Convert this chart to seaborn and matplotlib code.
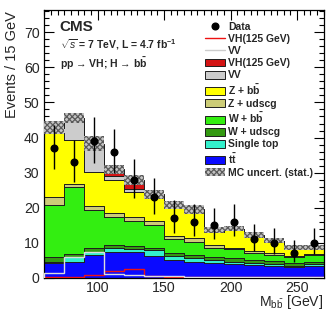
import numpy as np
import pandas as pd
import matplotlib
matplotlib.use("Agg")
import matplotlib.pyplot as plt
import seaborn as sns
from matplotlib.lines import Line2D
from matplotlib.patches import Patch
from matplotlib.ticker import MultipleLocator

# ---- data (events per 15 GeV bin) ----
mbb_edges = [60, 75, 90, 105, 120, 135, 150, 165, 180, 195, 210, 225, 240, 255, 270]
mbb_centers = [67.5, 82.5, 97.5, 112.5, 127.5, 142.5, 157.5, 172.5,
               187.5, 202.5, 217.5, 232.5, 247.5, 262.5]

tt = [4.3, 4.6, 6.5, 7.4, 7.2, 6.2, 5.0, 4.6, 4.1, 3.8, 3.6, 3.3, 3.0, 3.3]
single_top = [0.2, 1.2, 0.9, 1.0, 1.0, 1.7, 1.2, 1.0, 0.9, 0.8, 0.7, 0.6, 0.4, 0.6]
w_udscg = [1.3, 1.0, 1.0, 0.9, 0.8, 0.7, 0.8, 1.0, 1.0, 0.9, 0.7, 0.9, 0.7, 0.7]
w_bb = [14.9, 19.0, 10.9, 7.9, 7.3, 6.4, 4.0, 3.5, 2.6, 2.7, 2.0, 1.7, 1.7, 1.8]
z_udscg = [2.4, 0.9, 1.2, 1.2, 0.9, 1.3, 1.0, 1.3, 0.6, 0.4, 0.6, 0.5, 0.4, 0.4]
z_bb = [18.1, 12.6, 9.7, 9.5, 7.3, 6.5, 8.1, 7.6, 3.9, 4.9, 4.1, 3.1, 1.9, 1.3]
vv = [1.4, 6.0, 7.3, 1.2, 0.7, 0.4, 0.4, 0.3, 0.3, 0.3, 0.3, 0.3, 0.3, 0.3]
vh = [0.2, 0.3, 0.7, 1.9, 2.6, 0.6, 0.3, 0.2, 0.2, 0.2, 0.2, 0.15, 0.1, 0.1]
mc_unc = [1.8, 1.5, 2.1, 1.3, 1.4, 1.3, 1.2, 1.2, 0.8, 0.8, 0.8, 0.7, 0.7, 0.7]

data = [37, 33, 39, 36, 28, 23, 17, 16, 15, 16, 11, 10, 7, 10]
data_err_lo = [6.1, 5.7, 6.2, 6.0, 5.3, 4.8, 4.1, 4.0, 3.9, 4.0, 3.3, 3.1, 2.6, 3.1]
data_err_hi = [6.6, 6.2, 6.8, 6.5, 6.0, 5.4, 5.2, 5.1, 4.9, 5.1, 4.4, 4.3, 3.8, 4.3]

# top of the stack first (seaborn stacks the last hue level at the bottom)
processes = ["VH(125 GeV)", "VV", "Z + bb", "Z + udscg", "W + bb",
             "W + udscg", "Single top", "tt"]
yields = [vh, vv, z_bb, z_udscg, w_bb, w_udscg, single_top, tt]
colors = ["#d41414", "#cccccc", "#ffff00", "#cccc77", "#33ee11",
          "#339911", "#33f0cc", "#0a0aff"]
labels = ["VH(125 GeV)", "VV", r"Z + $\mathbf{b\bar{b}}$", "Z + udscg",
          r"W + $\mathbf{b\bar{b}}$", "W + udscg", "Single top",
          r"$\mathbf{t\bar{t}}$"]

df = pd.DataFrame({
    "mbb": np.tile(mbb_centers, len(processes)),
    "events": np.concatenate(yields),
    "process": np.repeat(processes, len(mbb_centers)),
})

# ---- style ----
sns.set_theme(style="ticks")
plt.rcParams["font.family"] = ["Liberation Sans", "DejaVu Sans"]
plt.rcParams["mathtext.fontset"] = "custom"
plt.rcParams["mathtext.rm"] = "Liberation Sans"
plt.rcParams["mathtext.bf"] = "Liberation Sans:bold"
plt.rcParams["mathtext.it"] = "Liberation Sans:italic"
plt.rcParams["hatch.linewidth"] = 0.9

fig = plt.figure(figsize=(3.28, 3.11), dpi=100)
ax = fig.add_axes([0.135, 0.107, 0.852, 0.861])

# stacked backgrounds + signal
sns.histplot(data=df, x="mbb", weights="events", hue="process",
             hue_order=processes, palette=dict(zip(processes, colors)),
             bins=mbb_edges, multiple="stack", element="step", fill=True,
             alpha=1, edgecolor="#1e1e1e", linewidth=0.7, legend=False, ax=ax)

# MC stat uncertainty band
total = np.sum(yields, axis=0)
step_lo = np.append(total - np.array(mc_unc), total[-1] - mc_unc[-1])
step_hi = np.append(total + np.array(mc_unc), total[-1] + mc_unc[-1])
band_face, band_hatch = "#c4c4c4", "#5a5a5a"
ax.fill_between(mbb_edges, step_lo, step_hi, step="post", facecolor=band_face,
                edgecolor=band_hatch, hatch="xxxxxx", linewidth=0, zorder=3)

# unstacked signal / VV lines
ax.stairs(vh, mbb_edges, color="#ee1111", linewidth=1.0, zorder=4)
ax.stairs(vv, mbb_edges, color="#dddddd", linewidth=1.0, zorder=4)

# data
ax.errorbar(mbb_centers, data, yerr=[data_err_lo, data_err_hi], fmt="o",
            color="black", markersize=4.8, elinewidth=1.0, capsize=0, zorder=5)

ax.set_xlim(60, 270)
ax.set_ylim(0, 76.4)
ax.xaxis.set_major_locator(MultipleLocator(50))
ax.xaxis.set_minor_locator(MultipleLocator(5))
ax.yaxis.set_major_locator(MultipleLocator(10))
ax.yaxis.set_minor_locator(MultipleLocator(2))
ax.tick_params(which="both", direction="in", top=True, right=True,
               labelsize=10.2, width=0.8, color="black")
ax.tick_params(axis="x", pad=2.5)
ax.tick_params(which="major", length=7)
ax.tick_params(which="minor", length=3.5)
for sp in ax.spines.values():
    sp.set_linewidth(0.9)
    sp.set_color("black")

ax.set_xlabel(r"M$_{\mathrm{b\bar{b}}}$ [GeV]", fontsize=10.2, ha="right",
              va="top")
ax.xaxis.set_label_coords(1.0, -0.056)
ax.set_ylabel("Events / 15 GeV", fontsize=10.5, loc="top")
ax.yaxis.set_label_coords(-0.09, 0.995)

# CMS labels
ax.text(0.055, 0.935, "CMS", transform=ax.transAxes, fontsize=11,
        fontweight="bold", va="center")
ax.text(0.055, 0.87, r"$\sqrt{s}$ = 7 TeV, L = 4.7 fb$^{\mathbf{-1}}$",
        transform=ax.transAxes, fontsize=7.5, fontweight="bold", va="center")
ax.text(0.055, 0.80, r"pp → VH; H → $\mathbf{b\bar{b}}$",
        transform=ax.transAxes, fontsize=7.5, fontweight="bold", va="center")

# legend
handles = [Line2D([], [], marker="o", color="black", linestyle="none",
                  markersize=4.8),
           Line2D([], [], color="#ee1111", linewidth=1.0),
           Line2D([], [], color="#cccccc", linewidth=1.0)]
handles += [Patch(facecolor=c, edgecolor="#1e1e1e", linewidth=0.7)
            for c in colors]
handles.append(Patch(facecolor=band_face, edgecolor=band_hatch,
                     hatch="xxxxxx", linewidth=0))
leg_labels = ["Data", "VH(125 GeV)", "VV"] + labels + ["MC uncert. (stat.)"]
leg = ax.legend(handles, leg_labels, loc="upper left",
                bbox_to_anchor=(0.557, 0.975), frameon=False, borderpad=0,
                handlelength=1.9, handleheight=0.8, handletextpad=0.3,
                labelspacing=0.2, prop={"weight": "bold", "size": 7.5})

fig.savefig("out.png", dpi=100)
